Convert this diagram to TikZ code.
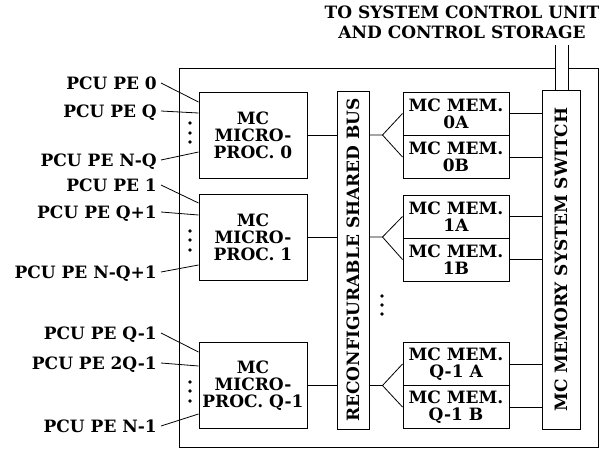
\documentclass[tikz,border=0pt]{standalone}
\usepackage{fontspec}
\setmainfont{DejaVu Serif}
\begin{document}
\begin{tikzpicture}[x=1pt, y=-1pt,
  txt/.style={font=\bfseries\fontsize{17}{17}\selectfont},
  proc/.style={txt, draw, line width=1pt, minimum width=108pt, minimum height=86pt, align=center, inner sep=0pt},
  mem/.style={txt, draw, line width=1pt, minimum width=106pt, minimum height=43pt, align=center, inner sep=0pt},
  bar/.style={draw, line width=1pt, inner sep=0pt},
  pelabel/.style={txt, anchor=east, inner sep=4pt, text height=12pt, text depth=0pt},
  wire/.style={line width=0.8pt}]
\useasboundingbox (0,0) rectangle (605,448);
% outer frame, open where the two control lines pass
\draw[line width=1pt] (555,68) -- (179,68) -- (179,447) -- (598,447) -- (598,68) -- (568,68);
\node[txt, align=center, inner sep=0pt, font=\bfseries\fontsize{17}{20}\selectfont] (ctl) at (462,22) {TO SYSTEM CONTROL UNIT\\AND CONTROL STORAGE};
% microprocessors
\node[proc] (mp0) at (253,135) {MC\\MICRO-\\PROC. 0};
\node[proc] (mp1) at (253,237) {MC\\MICRO-\\PROC. 1};
\node[proc] (mpq) at (253,385.5) {MC\\MICRO-\\PROC. Q-1};
% bus and switch
\node[bar, minimum width=32pt, minimum height=338pt, label={[txt, rotate=90]center:RECONFIGURABLE SHARED BUS}] (bus) at (353,260) {};
\node[bar, minimum width=38pt, minimum height=339pt, label={[txt, rotate=90]center:MC MEMORY SYSTEM SWITCH}] (sw) at (561,259.5) {};
% memories
\node[mem] (m0a) at (456,113.5) {MC MEM.\\0A};
\node[mem] (m0b) at (456,157) {MC MEM.\\0B};
\node[mem] (m1a) at (456,216.5) {MC MEM.\\1A};
\node[mem] (m1b) at (456,259.5) {MC MEM.\\1B};
\node[mem] (mqa) at (456,364) {MC MEM.\\Q-1 A};
\node[mem] (mqb) at (456,407) {MC MEM.\\Q-1 B};
% PE labels
\node[pelabel] (pe0) at (161,83) {PCU PE 0};
\node[pelabel] (peq) at (161,111) {PCU PE Q};
\node[pelabel] (penq) at (161,160) {PCU PE N-Q};
\node[pelabel] (pe1) at (161,185) {PCU PE 1};
\node[pelabel] (peq1) at (161,212) {PCU PE Q+1};
\node[pelabel] (penq1) at (161,272) {PCU PE N-Q+1};
\node[pelabel] (peqm) at (161,333) {PCU PE Q-1};
\node[pelabel] (pe2q) at (161,363) {PCU PE 2Q-1};
\node[pelabel] (pen1) at (161,426) {PCU PE N-1};
\draw[wire] (pe0.east) -- ([yshift=33pt]mp0.west);
\draw[wire] (peq.east) -- ([yshift=22pt]mp0.west);
\draw[wire] (penq.east) -- ([yshift=-17pt]mp0.west);
\draw[wire] (pe1.east) -- ([yshift=34pt]mp1.west);
\draw[wire] (peq1.east) -- ([yshift=22pt]mp1.west);
\draw[wire] (penq1.east) -- ([yshift=-28pt]mp1.west);
\draw[wire] (peqm.east) -- ([yshift=33.5pt]mpq.west);
\draw[wire] (pe2q.east) -- ([yshift=19.5pt]mpq.west);
\draw[wire] (pen1.east) -- ([yshift=-28.5pt]mpq.west);
% dots
\foreach \y in {123,133,142,231,240,250,382,391,401} \fill (190,\y) circle (1.8);
\foreach \y in {296,305,314} \fill (382,\y) circle (1.8);
% processors to bus
\draw[wire] (mp0.east) -- (mp0.east -| bus.west);
\draw[wire] (mp1.east) -- (mp1.east -| bus.west);
\draw[wire] (mpq.east) -- (mpq.east -| bus.west);
% bus to memory pairs
\coordinate (f0) at ([xshift=13pt]bus.east |- mp0.east);
\coordinate (f1) at ([xshift=13pt]bus.east |- mp1.east);
\coordinate (fq) at ([xshift=13pt]bus.east |- mpq.east);
\draw[wire] (bus.east |- f0) -- (f0) -- (m0a.west);
\draw[wire] (f0) -- (m0b.west);
\draw[wire] (bus.east |- f1) -- (f1) -- (m1a.west);
\draw[wire] (f1) -- (m1b.west);
\draw[wire] (bus.east |- fq) -- (fq) -- (mqa.west);
\draw[wire] (fq) -- (mqb.west);
% memories to switch
\draw[wire] (m0a.east) -- (m0a.east -| sw.west);
\draw[wire] (m0b.east) -- (m0b.east -| sw.west);
\draw[wire] (m1a.east) -- (m1a.east -| sw.west);
\draw[wire] (m1b.east) -- (m1b.east -| sw.west);
\draw[wire] (mqa.east) -- (mqa.east -| sw.west);
\draw[wire] (mqb.east) -- (mqb.east -| sw.west);
% switch up to control unit
\coordinate (up1) at (555,45);
\coordinate (up2) at (568,45);
\draw[wire] (up1) -- (up1 |- sw.north);
\draw[wire] (up2) -- (up2 |- sw.north);
\end{tikzpicture}
\end{document}
